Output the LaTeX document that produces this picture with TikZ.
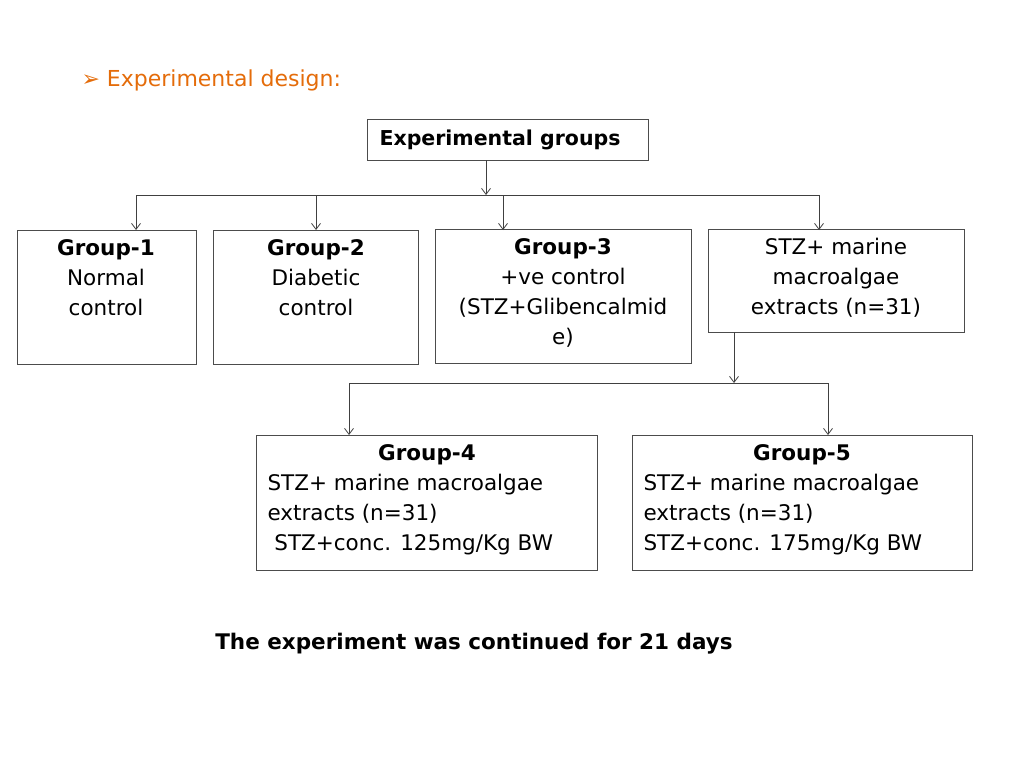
\documentclass[tikz,border=0pt]{standalone}
\usepackage{fontspec}
\setmainfont{DejaVu Sans}
\usetikzlibrary{arrows.meta}
\definecolor{ttl}{RGB}{228,108,10}
\begin{document}
\begin{tikzpicture}[x=1pt,y=-1pt,
  box/.style={draw=black!70,line width=0.8pt,inner sep=0pt},
  txt/.style={font=\fontsize{21.5}{30}\selectfont,align=center},
  conn/.style={draw=black!75,line width=0.8pt},
  arr/.style={conn,-{Straight Barb[length=6pt,width=9pt]}}]
\useasboundingbox (0,0) rectangle (1024,768);
\node[anchor=west,text=ttl,font=\fontsize{22}{26}\selectfont] (title) at (78,80) {➢\ Experimental design:};
\draw[box] (367,119) rectangle (648,160); \node[txt,font=\bfseries\fontsize{20.5}{24}\selectfont,anchor=west] (top) at (376,140) {Experimental groups};
\coordinate (topb) at (486,160);
\draw[box] (17,230) rectangle (196,364); \node[txt,anchor=north] (g1) at (106,236) {\textbf{Group-1}\\Normal\\control};
\draw[box] (213,230) rectangle (418,364); \node[txt,anchor=north] (g2) at (316,236) {\textbf{Group-2}\\ Diabetic\\control};
\draw[box] (435,229) rectangle (691,363); \node[txt,anchor=north] (g3) at (563,235) {\textbf{Group-3}\\+ve control\\(STZ+Glibencalmid\\e)};
\draw[box] (708,229) rectangle (964,332); \node[txt,anchor=north] (stz) at (836,235) {STZ+ marine\\macroalgae\\extracts (n=31)};
\draw[box] (256,435) rectangle (597,570);
\node[txt,anchor=north] (g4h) at (427,441) {\textbf{Group-4}};
\node[txt,anchor=north west,align=left] (g4) at (264,471) {STZ+ marine macroalgae\\extracts (n=31)\\ \ STZ+conc. 125mg/Kg BW};
\draw[box] (632,435) rectangle (972,570);
\node[txt,anchor=north] (g5h) at (802,441) {\textbf{Group-5}};
\node[txt,anchor=north west,align=left] (g5) at (640,471) {STZ+ marine macroalgae\\extracts (n=31)\\STZ+conc. 175mg/Kg BW};
\draw[arr] (topb) -- (486,195);
\draw[conn] (136,195) -- (819,195);
\foreach \x in {136,316,503,819} \draw[arr] (\x,195) -- (\x,230);
\draw[arr] (734,332) -- (734,383);
\draw[conn] (349,383) -- (828,383);
\foreach \x in {349,828} \draw[arr] (\x,383) -- (\x,435);
\node[font=\bfseries\fontsize{21.5}{24}\selectfont] (foot) at (474,644) {The experiment was continued for 21 days};
\end{tikzpicture}
\end{document}
